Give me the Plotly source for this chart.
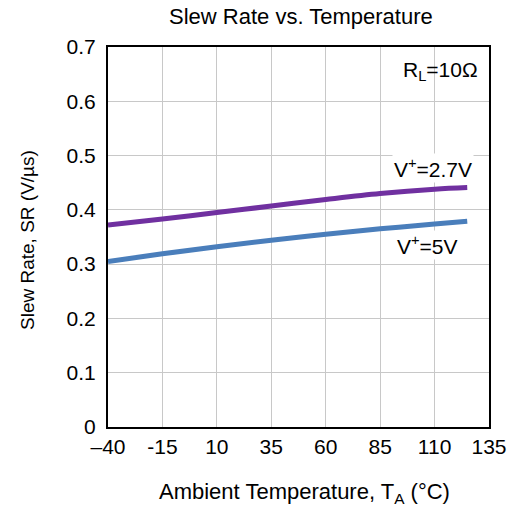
import plotly.graph_objects as go

temps = [-40, -15, 10, 35, 60, 85, 110, 125]
sr_27v = [0.372, 0.383, 0.395, 0.407, 0.419, 0.430, 0.438, 0.441]
sr_5v = [0.305, 0.319, 0.332, 0.344, 0.355, 0.365, 0.374, 0.379]

xticks = [-40, -15, 10, 35, 60, 85, 110, 135]
xticklabels = ["\u201340", "-15", "10", "35", "60", "85", "110", "135"]
yticks = [0, 0.1, 0.2, 0.3, 0.4, 0.5, 0.6, 0.7]
yticklabels = ["0", "0.1", "0.2", "0.3", "0.4", "0.5", "0.6", "0.7"]

font = "Liberation Sans, Arial, sans-serif"

fig = go.Figure()
fig.add_trace(go.Scatter(x=temps, y=sr_27v, mode="lines",
                         line=dict(color="#7030A0", width=5), line_shape="spline"))
fig.add_trace(go.Scatter(x=temps, y=sr_5v, mode="lines",
                         line=dict(color="#4A7EBB", width=5), line_shape="spline"))

fig.add_annotation(x=131, y=0.655, text="R<sub>L</sub>=10Ω", showarrow=False,
                   xanchor="right", yanchor="middle", font=dict(size=21, color="black", family=font))
fig.add_annotation(x=128, y=0.477, text="V<sup>+</sup>=2.7V", showarrow=False,
                   xanchor="right", yanchor="middle", bgcolor="white",
                   font=dict(size=21, color="black", family=font))
fig.add_annotation(x=121.5, y=0.336, text="V<sup>+</sup>=5V", showarrow=False,
                   xanchor="right", yanchor="middle", bgcolor="white",
                   font=dict(size=21, color="black", family=font))

# titles placed in paper pixels
W, H = 515, 509
L, R, T, B = 108, 26, 47, 82
pw, ph = W - L - R, H - T - B

def px(xp):
    return (xp - L) / pw

def py(yp):
    return (H - B - yp) / ph

fig.add_annotation(xref="paper", yref="paper", x=px(301), y=py(17),
                   text="Slew Rate vs. Temperature", showarrow=False,
                   xanchor="center", yanchor="middle",
                   font=dict(size=22, color="black", family=font))
fig.add_annotation(xref="paper", yref="paper", x=px(304), y=py(493),
                   text="Ambient Temperature, T<sub>A</sub> (°C)", showarrow=False,
                   xanchor="center", yanchor="middle",
                   font=dict(size=22, color="black", family=font))
fig.add_annotation(xref="paper", yref="paper", x=px(27), y=py(240),
                   text="Slew Rate, SR (V/µs)", showarrow=False, textangle=-90,
                   xanchor="center", yanchor="middle",
                   font=dict(size=19, color="black", family=font))

fig.update_layout(
    width=W, height=H,
    margin=dict(l=L, r=R, t=T, b=B, autoexpand=False),
    paper_bgcolor="white", plot_bgcolor="white",
    showlegend=False,
    font=dict(family=font, color="black"),
    xaxis=dict(range=[-40, 135], tickvals=xticks, ticktext=xticklabels,
               showgrid=True, gridcolor="#c8c8c8", gridwidth=1,
               showline=True, linecolor="black", linewidth=2, mirror=True,
               ticks="", tickfont=dict(size=21), zeroline=False, automargin=False),
    yaxis=dict(range=[0, 0.7], tickvals=yticks, ticktext=yticklabels,
               showgrid=True, gridcolor="#c8c8c8", gridwidth=1,
               showline=True, linecolor="black", linewidth=2, mirror=True,
               ticks="", tickfont=dict(size=21), zeroline=False, automargin=False,
               ticklabelstandoff=6),
)

fig.write_html("out.html", config={"displayModeBar": False},
               post_script="document.body.style.margin='0';document.body.style.overflow='hidden';")
